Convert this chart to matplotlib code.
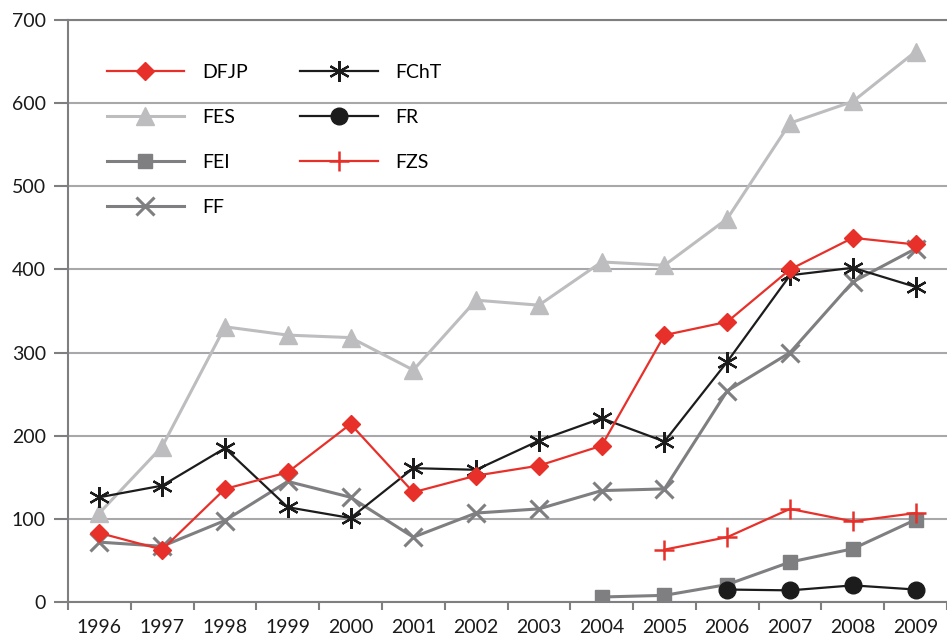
import numpy as np
import matplotlib.pyplot as plt

years = ['1996', '1997', '1998', '1999', '2000', '2001', '2002',
         '2003', '2004', '2005', '2006', '2007', '2008', '2009']

dfjp = [83, 63, 136, 156, 214, 132, 152, 164, 188, 321, 337, 400, 438, 430]
fes = [107, 187, 331, 321, 318, 279, 363, 357, 409, 405, 461, 576, 602, 662]
fei = [None, None, None, None, None, None, None, None, 6, 8, 21, 48, 64, 99]
ff = [72, 67, 98, 145, 126, 78, 107, 112, 134, 136, 254, 300, 385, 425]
fcht = [126, 140, 185, 114, 101, 161, 159, 194, 221, 193, 289, 393, 402, 379]
fr = [None, None, None, None, None, None, None, None, None, None, 15, 14, 20, 15]
fzs = [None, None, None, None, None, None, None, None, None, 63, 78, 112, 97, 107]

RED = '#e8302a'
LGRAY = '#bdbdc0'
MGRAY = '#7f7f82'
BLACK = '#1c1c1c'

plt.rcParams['font.family'] = ['Lato', 'DejaVu Sans']

def arr(v):
    return np.array([np.nan if x is None else x for x in v], dtype=float)

fig = plt.figure(figsize=(9.47, 6.38), dpi=100)
ax = fig.add_axes([68/947, 1-602/638, 1-68/947, (602-20)/638])
x = np.arange(len(years))

ax.plot(x, arr(fes), color=LGRAY, lw=2.2, marker='^', ms=13, label='FES', zorder=3)
ax.plot(x, arr(ff), color=MGRAY, lw=2.2, marker='x', ms=13, mew=2.2, label='FF', zorder=3)
ax.plot(x, arr(fei), color=MGRAY, lw=2.2, marker='s', ms=10, label='FEI', zorder=3)
ax.plot(x, arr(fcht), color=BLACK, lw=1.6, marker=(6, 2, 0), ms=15, mew=1.6, label='FChT', zorder=4)
ax.plot(x, arr(fr), color=BLACK, lw=1.6, marker='o', ms=12, label='FR', zorder=4)
ax.plot(x, arr(fzs), color=RED, lw=1.6, marker='+', ms=15, mew=1.8, label='FZS', zorder=4)
ax.plot(x, arr(dfjp), color=RED, lw=1.6, marker='D', ms=9.5, label='DFJP', zorder=5)

ax.set_xlim(-0.5, len(years) - 0.5)
ax.set_ylim(0, 700)
ax.set_yticks(range(0, 701, 100))
ax.set_xticks(x)
ax.set_xticklabels(years)
ax.set_xticks(np.arange(-0.5, len(years)), minor=True)
ax.tick_params(axis='x', which='major', length=0, labelsize=14, pad=12, colors='#1a1a1a')
ax.tick_params(axis='x', which='minor', length=6, width=1.5, color=MGRAY)
ax.tick_params(axis='y', length=10, width=1.5, color=MGRAY, labelsize=14, pad=6, labelcolor='#1a1a1a')
ax.grid(axis='y', color='#a8a8ab', lw=1.5, zorder=0)

for s in ['left', 'bottom', 'top']:
    ax.spines[s].set_color(MGRAY)
    ax.spines[s].set_linewidth(1.5)
ax.spines['right'].set_visible(False)

h, l = ax.get_legend_handles_labels()
order = ['DFJP', 'FES', 'FEI', 'FF', 'FChT', 'FR', 'FZS']
hh = [h[l.index(n)] for n in order]
leg = ax.legend(hh, order, ncol=2, loc='upper left', bbox_to_anchor=(0.024, 0.955),
                frameon=False, fontsize=14, handlelength=4.0, labelspacing=1.45,
                columnspacing=2.7, handletextpad=0.9)

fig.savefig('out.png', dpi=100)
